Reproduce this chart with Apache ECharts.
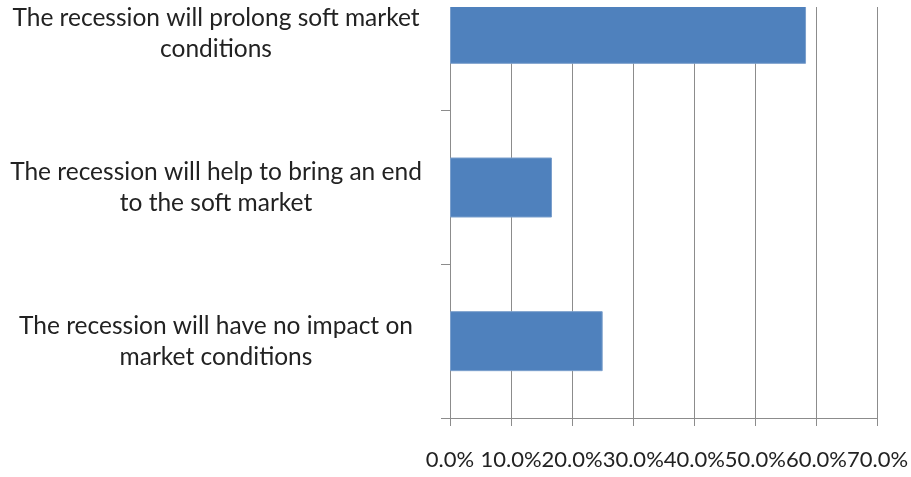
<!DOCTYPE html>
<html>
<head>
<meta charset="utf-8">
<script src="https://cdn.jsdelivr.net/npm/echarts@6/dist/echarts.min.js"></script>
<style>
html,body{margin:0;padding:0;background:#fff;}
#chart{width:911px;height:477px;}
</style>
</head>
<body>
<div id="chart"></div>
<script>
const categories = [
  "The recession will prolong soft market\nconditions",
  "The recession will help to bring an end\nto the soft market",
  "The recession will have no impact on\nmarket conditions"
];
const values = [0.583, 0.167, 0.250];
const xTicks = { min: 0, max: 0.7, interval: 0.1 };

const chart = echarts.init(document.getElementById('chart'));
const gray = '#8c8c8c';
chart.setOption({
  animation: false,
  grid: { left: 450, right: 33.5, top: -43, bottom: 59, containLabel: false, outerBoundsMode: 'none' },
  xAxis: {
    type: 'value', min: xTicks.min, max: xTicks.max, interval: xTicks.interval,
    axisLine: { show: true, lineStyle: { color: gray, width: 1 } },
    axisTick: { show: true, length: 8, lineStyle: { color: gray } },
    splitLine: { show: true, lineStyle: { color: gray, width: 1 } },
    axisLabel: {
      margin: 31, color: '#222', fontSize: 22, fontFamily: 'Lato',
      formatter: v => (v * 100).toFixed(1) + '%'
    }
  },
  yAxis: {
    type: 'category', data: categories, inverse: true,
    axisLine: { show: true, lineStyle: { color: gray, width: 1 } },
    axisTick: { show: true, length: 9, interval: 0, lineStyle: { color: gray } },
    axisLabel: {
      margin: 234, align: 'center', color: '#222', fontSize: 24.5,
      fontFamily: 'Lato', lineHeight: 31, interval: 0
    }
  },
  series: [{
    type: 'bar', data: values, barWidth: 60,
    itemStyle: { color: '#4F81BD', borderColor: '#7b9fcc', borderWidth: 1 }
  }],
  graphic: [{
    type: 'rect', left: 430, top: 0, z: 100,
    shape: { width: 481, height: 7 },
    style: { fill: '#fff' }
  }]
});
</script>
</body>
</html>
